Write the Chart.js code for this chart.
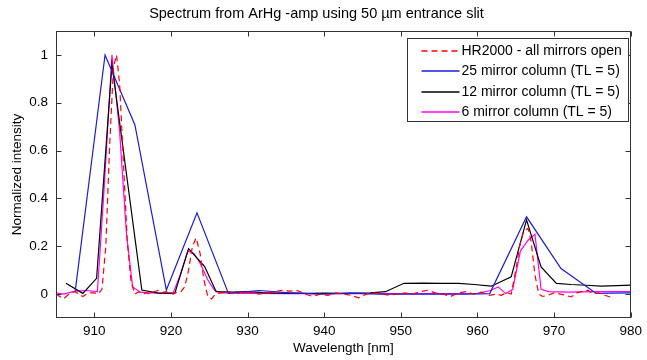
<!DOCTYPE html>
<html>
<head>
<meta charset="utf-8">
<script src="https://cdn.jsdelivr.net/npm/chart.js@4"></script>
<style>
  html, body { margin: 0; padding: 0; background: #fff; }
  #wrap { width: 647px; height: 360px; position: relative; }
</style>
</head>
<body>
<div id="wrap"><canvas id="spectrum"></canvas></div>
<script>
// Tick positions
var xTickValues = [910, 920, 930, 940, 950, 960, 970, 980];
var yTickValues = [0, 0.2, 0.4, 0.6, 0.8, 1];

// HR2000 - all mirrors open (red dashed, fine sampling)
var hrX = [905, 905.5, 906, 906.5, 907, 907.5, 908, 908.5, 909, 909.5, 910, 910.5, 911, 911.5, 912, 912.5, 912.9, 913.3, 913.8, 914.3, 914.8, 915.3,
  915.8, 916.3, 916.8, 917.3, 917.8, 918.3, 918.8, 919.3, 919.8, 920.3, 920.8, 921.3, 921.8, 922.3, 922.8, 923.3, 923.8, 924.3, 924.8, 925.3,
  925.8, 926.5, 927.5, 928.5, 929.5, 930.5, 931.5, 932.5, 933.5, 934.5, 935.5, 936.5, 937.5, 938.5, 939.5, 940.5, 941.5, 942.5, 943.5, 944.5,
  945.5, 946.5, 947.5, 948.5, 949.5, 950.5, 951.5, 952.5, 953.5, 954.5, 955.5, 956.5, 957.5, 958.5, 959.5, 960.5, 961.5, 962.5, 963.1, 963.8,
  964.4, 965, 965.5, 966, 966.6, 967, 967.5, 968, 968.5, 969.2, 970, 970.8, 971.5, 972.2, 973, 973.7, 974.4, 975.1, 975.8, 976.6, 977.4, 977.8];
var hrY = [0.0, -0.01, -0.02, -0.005, 0.005, 0.01, 0.0, -0.01, 0.0, 0.005, 0.005, 0.0, 0.02, 0.2, 0.62, 0.95, 1.0, 0.88, 0.55, 0.22, 0.05, 0.0,
  0.01, 0.0, 0.005, 0.0, 0.01, 0.015, 0.005, 0.01, 0.005, 0.0, 0.01, 0.01, 0.03, 0.1, 0.2, 0.235, 0.17, 0.06, -0.01, -0.02,
  0.0, 0.005, 0.01, 0.0, 0.01, 0.005, 0.0, 0.005, 0.01, 0.016, 0.012, 0.015, 0.0, -0.01, 0.0, -0.005, 0.005, 0.0, -0.005, -0.016,
  0.0, 0.005, 0.0, -0.005, 0.0, 0.005, 0.0, 0.01, 0.016, 0.005, 0.0, -0.01, 0.005, 0.01, 0.0, 0.008, -0.005, 0.0, -0.005, 0.005,
  0.0, 0.1, 0.2, 0.26, 0.275, 0.22, 0.08, 0.0, -0.01, -0.005, 0.005, 0.0, -0.005, -0.012, 0.005, 0.012, 0.016, 0.0, 0.005, -0.005, -0.013, -0.02];

// 25 mirror column (TL = 5)
var m25X = [907.5, 911.4, 915.3, 919.4, 923.4, 927.5, 931.5, 935.5, 939.5, 943.5, 947.5, 951.5, 955.5, 958.5, 961.6, 966.4, 970.9, 975.5, 980];
var m25Y = [0.01, 1.0, 0.707, 0.017, 0.34, 0.003, 0.015, 0.005, 0.0, 0.004, 0.0, 0.0, 0.0, 0.0, 0.002, 0.323, 0.107, 0.003, 0.005];

// 12 mirror column (TL = 5)
var m12X = [906.3, 908.5, 910.3, 912.3, 916.2, 918.3, 920.5, 922.3, 924.4, 925.9, 928, 930, 932, 934, 936, 938, 940, 942, 944, 946,
  948, 950.4, 953, 955.3, 957.5, 959.6, 961.8, 964.4, 966.4, 968.3, 970.3, 972.2, 974.2, 976.1, 978.2, 980.3];
var m12Y = [0.045, 0.003, 0.066, 0.96, 0.017, 0.004, 0.003, 0.19, 0.115, 0.01, 0.008, 0.01, 0.006, 0.004, 0.004, 0.003, 0.004, 0.003, 0.004, 0.005,
  0.01, 0.045, 0.046, 0.045, 0.045, 0.04, 0.033, 0.072, 0.31, 0.114, 0.045, 0.04, 0.037, 0.033, 0.035, 0.038];

// 6 mirror column (TL = 5)
var m6X = [905, 906, 907.5, 909, 910.4, 911.3, 912.3, 913.3, 914.2, 915, 916, 917, 918, 919, 920.3, 921.2, 922.2, 923, 923.8, 924.8, 925.7, 926.6,
  930, 935, 940, 945, 950, 955, 960, 961.7, 962.7, 963.7, 964.6, 965.6, 966.6, 967.5, 968.3, 969.3, 972, 975, 978, 980];
var m6Y = [0.005, 0.0, 0.012, 0.015, 0.01, 0.45, 1.0, 0.68, 0.25, 0.03, 0.008, 0.005, 0.005, 0.005, 0.005, 0.08, 0.18, 0.17, 0.13, 0.06, 0.015, 0.005,
  0.003, 0.002, 0.002, 0.002, 0.002, 0.002, 0.003, 0.015, 0.03, 0.002, 0.02, 0.18, 0.225, 0.25, 0.02, 0.01, 0.008, 0.01, 0.01, 0.01];

var seriesLabels = ['HR2000 - all mirrors open', '25 mirror column (TL = 5)', '12 mirror column (TL = 5)', '6 mirror column (TL = 5)'];
var seriesColors = ['#ff0000', '#1a1ae6', '#000000', '#ff00ff'];
var seriesDash = [[6, 4], [], [], []];

function pairs(xs, ys) {
  return xs.map(function(x, i) { return { x: x, y: ys[i] }; });
}

var FONT = 'Liberation Sans, Arial, sans-serif';

// MATLAB-style box with inward ticks on all four sides
var boxPlugin = {
  id: 'matlabBox',
  afterDatasetsDraw: function(chart) {
    var ctx = chart.ctx, a = chart.chartArea;
    var xs = chart.scales.x, ys = chart.scales.y;
    var L = Math.round(a.left) + 0.5, R = Math.round(a.right) - 0.5;
    var T = Math.round(a.top) + 0.5, B = Math.round(a.bottom) - 0.5;
    ctx.save();
    ctx.strokeStyle = '#333';
    ctx.lineWidth = 1;
    ctx.setLineDash([]);
    ctx.strokeRect(L, T, R - L, B - T);
    ctx.beginPath();
    xTickValues.forEach(function(v) {
      var px = Math.round(xs.getPixelForValue(v)) + 0.5;
      ctx.moveTo(px, B); ctx.lineTo(px, B - 5);
      ctx.moveTo(px, T); ctx.lineTo(px, T + 5);
    });
    yTickValues.forEach(function(v) {
      var py = Math.round(ys.getPixelForValue(v)) + 0.5;
      ctx.moveTo(L, py); ctx.lineTo(L + 5, py);
      ctx.moveTo(R, py); ctx.lineTo(R - 5, py);
    });
    ctx.stroke();
    ctx.restore();
  }
};

// Legend box inside the axes, top right (like MATLAB 'NorthEast')
var insideLegend = {
  id: 'insideLegend',
  afterDraw: function(chart) {
    var ctx = chart.ctx, a = chart.chartArea;
    var boxR = Math.round(a.right) - 2.5, boxT = Math.round(a.top) + 7.5;
    var boxW = 221, boxH = 83, boxL = boxR - boxW;
    ctx.save();
    ctx.fillStyle = '#fff';
    ctx.fillRect(boxL, boxT, boxW, boxH);
    ctx.strokeStyle = '#333';
    ctx.lineWidth = 1;
    ctx.strokeRect(boxL, boxT, boxW, boxH);
    ctx.font = '14px ' + FONT;
    ctx.textBaseline = 'middle';
    ctx.textAlign = 'left';
    for (var i = 0; i < seriesLabels.length; i++) {
      var y = Math.round(boxT + 12 + i * 20.5);
      ctx.save();
      ctx.beginPath();
      ctx.lineWidth = 1.6;
      ctx.strokeStyle = seriesColors[i];
      ctx.setLineDash(seriesDash[i]);
      ctx.moveTo(boxL + 14, y);
      ctx.lineTo(boxL + 52, y);
      ctx.stroke();
      ctx.restore();
      ctx.fillStyle = '#000';
      ctx.fillText(seriesLabels[i], boxL + 54, y);
    }
    ctx.restore();
  }
};

function makeDataset(i, xs, ys) {
  return {
    label: seriesLabels[i],
    data: pairs(xs, ys),
    borderColor: seriesColors[i],
    borderDash: seriesDash[i],
    borderWidth: 1.2,
    pointRadius: 0,
    fill: false,
    tension: 0
  };
}

new Chart(document.getElementById('spectrum'), {
  type: 'line',
  data: {
    datasets: [
      makeDataset(0, hrX, hrY),
      makeDataset(1, m25X, m25Y),
      makeDataset(2, m12X, m12Y),
      makeDataset(3, m6X, m6Y)
    ]
  },
  options: {
    responsive: true,
    maintainAspectRatio: false,
    animation: false,
    layout: { padding: { left: 0, right: 14, top: 0, bottom: 0 } },
    plugins: {
      legend: { display: false },
      tooltip: { enabled: false },
      title: {
        display: true,
        text: 'Spectrum from ArHg -amp using 50 µm entrance slit',
        color: '#000',
        font: { family: FONT, size: 14.5, weight: 'normal' },
        padding: { top: 5, bottom: 8.6 }
      }
    },
    scales: {
      x: {
        type: 'linear',
        min: 905,
        max: 980,
        grid: { display: false, drawTicks: false },
        border: { display: false },
        afterBuildTicks: function(scale) {
          scale.ticks = xTickValues.map(function(v) { return { value: v }; });
        },
        afterFit: function(scale) { scale.height = 42; },
        ticks: {
          color: '#000',
          padding: 5,
          maxRotation: 0,
          font: { family: FONT, size: 13.5 },
          callback: function(v) { return String(v); }
        },
        title: {
          display: true,
          text: 'Wavelength [nm]',
          color: '#000',
          font: { family: FONT, size: 13.5 },
          padding: { top: 0, bottom: 4 }
        }
      },
      y: {
        type: 'linear',
        min: -0.1,
        max: 1.1,
        grid: { display: false, drawTicks: false },
        border: { display: false },
        afterBuildTicks: function(scale) {
          scale.ticks = yTickValues.map(function(v) { return { value: v }; });
        },
        afterFit: function(scale) { scale.width = 56; },
        ticks: {
          color: '#000',
          padding: 8,
          font: { family: FONT, size: 13.5 },
          callback: function(v) { return String(v); }
        },
        title: {
          display: true,
          text: 'Normalized intensity',
          color: '#000',
          font: { family: FONT, size: 13.5 },
          padding: { top: 9, bottom: 0 }
        }
      }
    }
  },
  plugins: [boxPlugin, insideLegend]
});
</script>
</body>
</html>
